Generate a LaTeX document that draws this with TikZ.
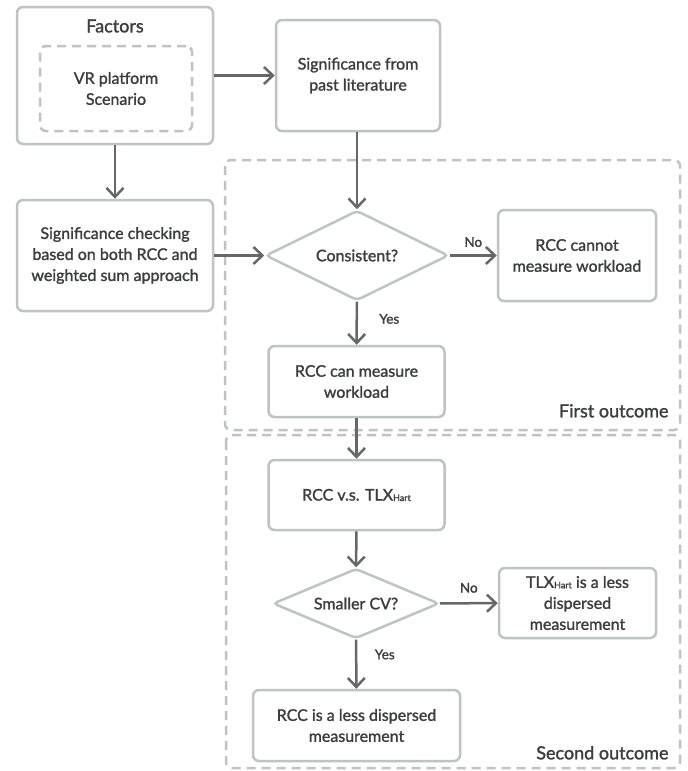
\documentclass[tikz,border=0pt]{standalone}
\usepackage{fontspec}
\setmainfont{Lato}[FakeBold=1.5]
\usetikzlibrary{positioning,shapes.geometric,arrows.meta}

\definecolor{boxgray}{HTML}{BEC3C3}
\definecolor{arrowgray}{HTML}{666868}
\definecolor{textgray}{HTML}{3C3E3E}

\newcommand{\hartsub}{\raisebox{-0.5pt}{\fontsize{9}{9}\selectfont Hart}}

\tikzset{
	box/.style={draw=boxgray, line width=2.5pt, rounded corners=6pt, align=center,
		text=textgray, inner sep=0pt, font=\fontsize{16}{21}\selectfont},
	decision/.style={diamond, draw=boxgray, line width=2.5pt, rounded corners=4pt,
		align=center, text=textgray, inner sep=0pt, font=\fontsize{16}{21}\selectfont},
	flow/.style={draw=arrowgray, line width=2.5pt, -{Straight Barb[length=9pt,width=17pt]}},
	frame/.style={draw=boxgray, line width=2.5pt, dash pattern=on 9pt off 6pt, rounded corners=6pt},
	tag/.style={text=textgray, font=\fontsize{13.5}{16}\selectfont},
	outcome/.style={text=textgray, font=\fontsize{18}{20}\selectfont, anchor=south east}
}

\begin{document}
\begin{tikzpicture}[x=1pt,y=-1pt]
		\useasboundingbox (0,0) rectangle (688,771);

		% Outcome frames
		\draw[frame] (225,160) rectangle (680,430);
		\draw[frame] (226,435) rectangle (680,768);
		\node[outcome] (firstout) at (672,421) {First outcome};
		\node[outcome] (secondout) at (672,763) {Second outcome};

		% Factors
		\node[box, minimum width=196pt, minimum height=137pt] (factors) at (115,75.5) {};
		\node[tag, font=\fontsize{18}{20}\selectfont] (factorstitle) at (115,26) {Factors};
		\node[box, dash pattern=on 9pt off 6pt, minimum width=152pt, minimum height=85pt] (platform) at (116,88.5) {VR platform\\Scenario};

		% Significance sources
		\node[box, minimum width=164pt, minimum height=111pt] (pastlit) at (358,75.5) {Significance from\\past literature};
		\node[box, minimum width=196pt, minimum height=111pt] (checking) at (115,255.5) {Significance checking\\based on both RCC and\\weighted sum approach};

		% First outcome
		\node[decision, aspect=2.03, minimum width=183pt, minimum height=90pt] (consistent) at (357,255.5) {Consistent?};
		\node[box, minimum width=158pt, minimum height=91pt] (cannot) at (577,255.5) {RCC cannot\\measure workload};
		\node[box, minimum width=176pt, minimum height=71pt] (can) at (356.5,381.5) {RCC can measure\\workload};

		% Second outcome
		\node[box, minimum width=176pt, minimum height=70pt] (versus) at (356.5,495) {RCC v.s. TLX\hartsub};
		\node[decision, aspect=2.37, minimum width=166pt, minimum height=70pt] (smallercv) at (356,603.5) {Smaller CV?};
		\node[box, minimum width=157pt, minimum height=70pt] (tlxless) at (577.5,603) {TLX\hartsub{} is a less\\dispersed\\measurement};
		\node[box, minimum width=207pt, minimum height=71pt] (rccless) at (356.5,725.5) {RCC is a less dispersed\\measurement};

		% Connectors
		\draw[flow] (factors.east |- pastlit.west) -- (pastlit.west);
		\draw[flow] (factors) -- (checking);
		\draw[flow] (pastlit.south -| consistent.north) -- (consistent.north);
		\draw[flow] (checking) -- (consistent);
		\draw[flow] (consistent) -- node[tag, above=4pt] {No} (cannot);
		\draw[flow] (consistent) -- node[tag, right=18pt, pos=0.4] {Yes} (can);
		\draw[flow] (can) -- (versus);
		\draw[flow] (versus) -- (smallercv);
		\draw[flow] (smallercv) -- node[tag, above=6pt] {No} (tlxless);
		\draw[flow] (smallercv) -- node[tag, right=14pt, pos=0.3] {Yes} (rccless);
	\end{tikzpicture}
\end{document}
